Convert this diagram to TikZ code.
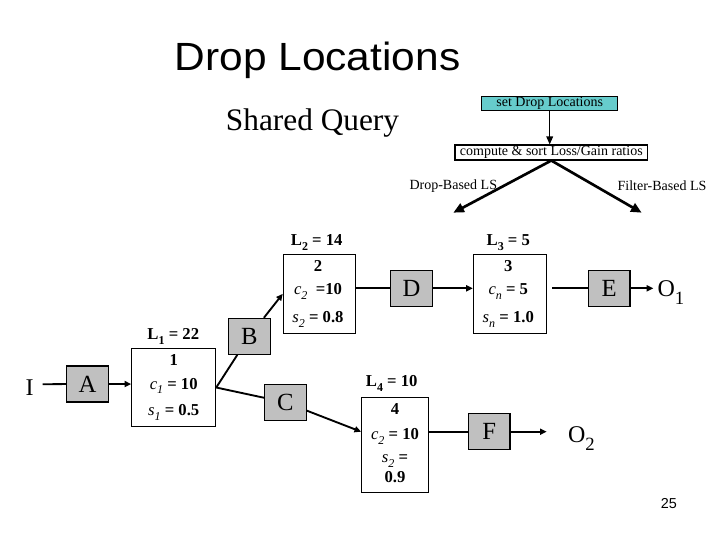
\documentclass[tikz,border=0pt]{standalone}
\usepackage{fontspec}
\setmainfont{Liberation Serif}
\setsansfont{Liberation Sans}
\usetikzlibrary{arrows.meta}
\definecolor{teal1}{HTML}{66CCCC}
\definecolor{gray1}{HTML}{C0C0C0}
\newcommand{\sbx}[1]{\raisebox{-0.28em}{\scalebox{0.72}{#1}}}
\newcommand{\sbit}[1]{\raisebox{-0.28em}{\scalebox{0.72}{\textit{#1}}}}
\newcommand{\sbo}[1]{\raisebox{-0.33em}{\scalebox{0.78}{#1}}}
\begin{document}
\begin{tikzpicture}[x=0.75pt,y=-0.75pt,
  conn/.style={line width=1.4pt},
  arr/.style={line width=1.4pt,-{Triangle[length=5pt,width=4.5pt]}},
  bigarr/.style={line width=2pt,-{Triangle[length=8pt,width=7pt]}},
  gbox/.style={draw,line width=0.8pt,fill=gray1,minimum width=31.2pt,minimum height=27pt,inner sep=0pt,font=\fontsize{18.5}{20}\selectfont},
  wbox/.style={draw,line width=0.8pt,fill=white,inner sep=0pt},
  lbl/.style={inner sep=0pt,font=\fontsize{12.5}{14}\selectfont},
  big/.style={inner sep=0pt,font=\fontsize{18}{20}\selectfont},
  small/.style={inner sep=0pt,font=\fontsize{10.5}{12}\selectfont}]
\useasboundingbox (0,0) rectangle (720,540);

% titles
\node[inner sep=0pt,anchor=base,font=\sffamily\fontsize{29.5}{32}\selectfont] (title) at (317.5,70) {\scalebox{1.08}[1]{Drop Locations}};
\node[inner sep=0pt,anchor=base,font=\fontsize{23.5}{26}\selectfont] (shared) at (312.5,130) {Shared Query};

% top boxes
\node[draw,line width=0.8pt,fill=teal1,minimum width=102pt,minimum height=10.5pt,inner sep=0pt,font=\fontsize{10.5}{12}\selectfont] (set) at (549.7,103.7) {set Drop Locations};
\node[draw,line width=0.8pt,fill=white,minimum width=144.5pt,minimum height=11.25pt,inner sep=0pt,font=\fontsize{10.5}{12}\selectfont] (comp) at (551.3,152.5) {compute \& sort Loss/Gain ratios};
\draw[line width=0.9pt,-{Triangle[length=6pt,width=5pt]}] (set.south) -- (set.south |- comp.north);
\coordinate (dl) at (453.3,212.7);
\coordinate (dr) at (641.7,212.7);
\draw[bigarr] (comp.south) -- (dl);
\draw[bigarr] (comp.south) -- (dr);
\node[small] (dropls) at (453.3,186) {Drop-Based LS};
\node[small] (filtls) at (662,186) {Filter-Based LS};

% gray boxes
\node[gbox] (A) at (87.5,384) {A};
\node[gbox] (B) at (249.3,336.3) {B};
\node[gbox] (C) at (285.3,402.3) {C};
\node[gbox] (D) at (411.5,288.3) {D};
\node[gbox] (E) at (609.2,288.3) {E};
\node[gbox] (F) at (489.2,431.7) {F};

% white boxes
\node[wbox,minimum width=63pt,minimum height=58.8pt] (b1) at (173.7,387.5) {};
\node[wbox,minimum width=54.3pt,minimum height=59.25pt] (b2) at (319.5,293.8) {};
\node[wbox,minimum width=55pt,minimum height=59.25pt] (b3) at (510,293.8) {};
\node[wbox,minimum width=50pt,minimum height=71.25pt] (b4) at (395,444.8) {};

% box texts
\node[lbl] (b1L) at (173.3,336.7) {\textbf{L\sbx{1} = 22}};
\node[lbl] (b1a) at (173.7,360) {\textbf{1}};
\node[lbl] (b1b) at (173.7,386) {\textit{c}\sbit{1} \textbf{= 10}};
\node[lbl] (b1c) at (173.7,412.7) {\textit{s}\sbit{1} \textbf{= 0.5}};

\node[lbl] (b2L) at (316.7,242.7) {\textbf{L\sbx{2} = 14}};
\node[lbl] (b2a) at (318,266) {\textbf{2}};
\node[lbl] (b2b) at (318,291.7) {\textit{c}\sbit{2} \ \textbf{=10}};
\node[lbl] (b2c) at (318,319.3) {\textit{s}\sbit{2} \textbf{= 0.8}};

\node[lbl] (b3L) at (508.3,242.7) {\textbf{L\sbx{3} = 5}};
\node[lbl] (b3a) at (508.3,266) {\textbf{3}};
\node[lbl] (b3b) at (508.3,291.7) {\textit{c}\sbit{n} \textbf{= 5}};
\node[lbl] (b3c) at (508.3,319.3) {\textit{s}\sbit{n} \textbf{= 1.0}};

\node[lbl] (b4L) at (391.7,383.3) {\textbf{L\sbx{4} = 10}};
\node[lbl] (b4a) at (395,409.3) {\textbf{4}};
\node[lbl] (b4b) at (395,436.7) {\textit{c}\sbit{2} \textbf{= 10}};
\node[lbl] (b4c) at (395,461) {\textit{s}\sbit{2} \textbf{=}};
\node[lbl] (b4d) at (395,477.3) {\textbf{0.9}};

% inputs / outputs
\node[big] (I) at (29.7,388) {I};
\node[big] (O1) at (671,293) {O\sbo{1}};
\node[big] (O2) at (581.5,439) {O\sbo{2}};
\coordinate (Iend) at (42.7,384.3);
\coordinate (o1end) at (653.3,288.3);
\coordinate (o2end) at (546.7,431.7);
\coordinate (e0) at (552.3,288.3);

% connectors
\draw[conn] (Iend) -- (A.west);
\draw[arr] (A.east) -- (b1.west |- A);
\draw[conn] (b1.east) -- (B);
\draw[conn] (b1.east) -- (C);
\draw[arr] (B) -- (b2.west);
\draw[arr] (C) -- (b4.west |- F);
\draw[conn] (b2.east |- D) -- (D.west);
\draw[arr] (D.east) -- (b3.west |- D);
\draw[conn] (e0) -- (E.west);
\draw[arr] (E.east) -- (o1end);
\draw[conn] (b4.east |- F) -- (F.west);
\draw[arr] (F.east) -- (o2end);

% page number
\node[inner sep=0pt,font=\sffamily\fontsize{10.8}{12}\selectfont] (pg) at (668.8,504) {25};
\end{tikzpicture}
\end{document}
